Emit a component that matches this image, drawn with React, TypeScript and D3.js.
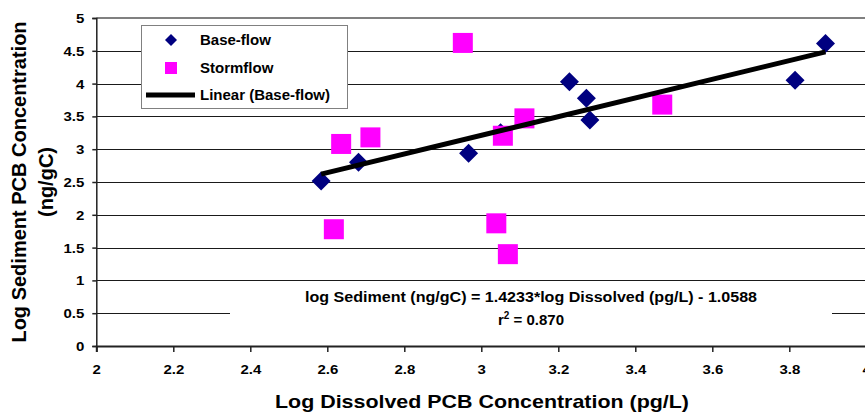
import React, { useEffect, useRef } from "react";
import * as d3 from "d3";

const baseX = [2.584, 2.681, 2.967, 3.05, 3.229, 3.273, 3.282, 3.815, 3.894];
const baseY = [2.515, 2.8, 2.937, 3.25, 4.03, 3.776, 3.445, 4.05, 4.61];
const stormX = [2.617, 2.636, 2.712, 2.952, 3.039, 3.056, 3.069, 3.112, 3.47];
const stormY = [1.78, 3.08, 3.18, 4.62, 1.87, 3.205, 1.4, 3.47, 3.68];
const xTicks = [2, 2.2, 2.4, 2.6, 2.8, 3, 3.2, 3.4, 3.6, 3.8, 4];
const yTicks = [0, 0.5, 1, 1.5, 2, 2.5, 3, 3.5, 4, 4.5, 5];
const slope = 1.4233;
const intercept = -1.0588;
const legendLabels = ["Base-flow", "Stormflow", "Linear (Base-flow)"];

const W = 865;
const H = 412;
const FONT = "'Liberation Sans', Arial, sans-serif";

const draw = (node: SVGSVGElement) => {
  const svg = d3.select(node);
  svg.selectAll("*").remove();

  const x = d3.scaleLinear().domain([2, 4]).range([96.3, 866.3]);
  const y = d3.scaleLinear().domain([0, 5]).range([346, 18]);

  // gridlines
  svg
    .append("g")
    .selectAll("line")
    .data(yTicks.filter(t => t > 0 && t < 5))
    .enter()
    .append("line")
    .attr("x1", x(2))
    .attr("x2", x(4))
    .attr("y1", d => Math.round(y(d)) + 0.5)
    .attr("y2", d => Math.round(y(d)) + 0.5)
    .attr("stroke", "#1a1a1a")
    .attr("stroke-width", 1);
  svg
    .append("line")
    .attr("x1", x(2))
    .attr("x2", x(4))
    .attr("y1", y(5))
    .attr("y2", y(5))
    .attr("stroke", "#808080")
    .attr("stroke-width", 2);

  // equation box hides part of the 0.5 gridline
  svg
    .append("rect")
    .attr("x", 230)
    .attr("y", 287)
    .attr("width", 602)
    .attr("height", 50)
    .attr("fill", "#fff");

  // axes
  const xAxis = svg
    .append("g")
    .attr("transform", "translate(0," + y(0) + ")")
    .call(d3.axisBottom(x).tickValues(xTicks).tickSize(6).tickFormat(d3.format("")));
  xAxis.select(".domain").attr("stroke", "#222").attr("stroke-width", 2);
  xAxis.selectAll(".tick line").attr("stroke", "#222").attr("stroke-width", 1.5);
  xAxis
    .selectAll(".tick text")
    .attr("y", 28)
    .attr("dy", 0)
    .attr("transform", "scale(1.2,1)")
    .style("font", "bold 12.5px " + FONT)
    .attr("fill", "#000");

  const yAxis = svg
    .append("g")
    .attr("transform", "translate(" + x(2) + ",0)")
    .call(d3.axisLeft(y).tickValues(yTicks).tickSize(4).tickFormat(d3.format("")));
  yAxis.select(".domain").attr("stroke", "#222").attr("stroke-width", 1.5);
  yAxis.selectAll(".tick line").attr("stroke", "#222").attr("stroke-width", 1.5);
  yAxis
    .selectAll(".tick text")
    .attr("x", -10)
    .attr("dy", "0.36em")
    .attr("transform", "scale(1.2,1)")
    .style("font", "bold 12.5px " + FONT)
    .attr("fill", "#000");

  // base-flow diamonds
  const dia = (cx: number, cy: number, r: number) =>
    `M${cx},${cy - r}L${cx + r},${cy}L${cx},${cy + r}L${cx - r},${cy}Z`;
  svg
    .append("g")
    .selectAll("path")
    .data(baseX.map((v, i) => ({ x: v, y: baseY[i] })))
    .enter()
    .append("path")
    .attr("d", d => dia(x(d.x), y(d.y), 9.5))
    .attr("fill", "#000080");

  // stormflow squares
  svg
    .append("g")
    .selectAll("rect")
    .data(stormX.map((v, i) => ({ x: v, y: stormY[i] })))
    .enter()
    .append("rect")
    .attr("x", d => x(d.x) - 10)
    .attr("y", d => y(d.y) - 10)
    .attr("width", 20)
    .attr("height", 20)
    .attr("fill", "#ff00ff");

  // linear trend of base-flow
  const ext = d3.extent(baseX) as [number, number];
  const line = d3
    .line<number>()
    .x(d => x(d))
    .y(d => y(slope * d + intercept));
  svg
    .append("path")
    .attr("d", line(ext))
    .attr("stroke", "#000")
    .attr("stroke-width", 5)
    .attr("fill", "none");

  // equation
  svg
    .append("text")
    .attr("x", 531)
    .attr("y", 302)
    .attr("text-anchor", "middle")
    .attr("textLength", 452)
    .attr("lengthAdjust", "spacingAndGlyphs")
    .style("font", "bold 14px " + FONT)
    .text("log Sediment (ng/gC) = " + slope + "*log Dissolved (pg/L) - " + Math.abs(intercept));
  const r2 = svg
    .append("text")
    .attr("x", 531)
    .attr("y", 325)
    .attr("text-anchor", "middle")
    .style("font", "bold 15px " + FONT);
  r2.append("tspan").text("r");
  r2.append("tspan").attr("dy", -6).style("font-size", "10px").text("2");
  r2.append("tspan").attr("dy", 6).text(" = 0.870");

  // legend
  const lg = svg.append("g");
  lg.append("rect")
    .attr("x", 141.5)
    .attr("y", 25.5)
    .attr("width", 206)
    .attr("height", 83)
    .attr("fill", "#fff")
    .attr("stroke", "#808080")
    .attr("stroke-width", 1);
  lg.append("path").attr("d", dia(171, 40, 6)).attr("fill", "#000080");
  lg.append("rect").attr("x", 165).attr("y", 62).attr("width", 12).attr("height", 12).attr("fill", "#ff00ff");
  lg.append("line")
    .attr("x1", 146)
    .attr("x2", 195)
    .attr("y1", 95)
    .attr("y2", 95)
    .attr("stroke", "#000")
    .attr("stroke-width", 5);
  lg.selectAll("text")
    .data(legendLabels)
    .enter()
    .append("text")
    .attr("x", 200)
    .attr("y", (d, i) => 45 + i * 27.5)
    .style("font", "bold 15px " + FONT)
    .text(d => d);

  // axis titles
  svg
    .append("text")
    .attr("x", 482)
    .attr("y", 408)
    .attr("text-anchor", "middle")
    .attr("textLength", 414)
    .attr("lengthAdjust", "spacingAndGlyphs")
    .style("font", "bold 19px " + FONT)
    .text("Log Dissolved PCB Concentration (pg/L)");
  const yt = svg
    .append("text")
    .attr("transform", "translate(26,182) rotate(-90)")
    .attr("text-anchor", "middle")
    .style("font", "bold 20px " + FONT);
  yt.append("tspan").attr("x", 0).attr("y", 0).text("Log Sediment PCB Concentration");
  yt.append("tspan").attr("x", 0).attr("y", 27).text("(ng/gC)");
};

const App = () => {
  const ref = useRef<SVGSVGElement>(null);
  useEffect(() => {
    if (ref.current) draw(ref.current);
  }, []);
  return (
    <svg
      ref={ref}
      width={W}
      height={H}
      style={{ position: "absolute", left: 0, top: 0, background: "#fff" }}
    />
  );
};

export default App;
